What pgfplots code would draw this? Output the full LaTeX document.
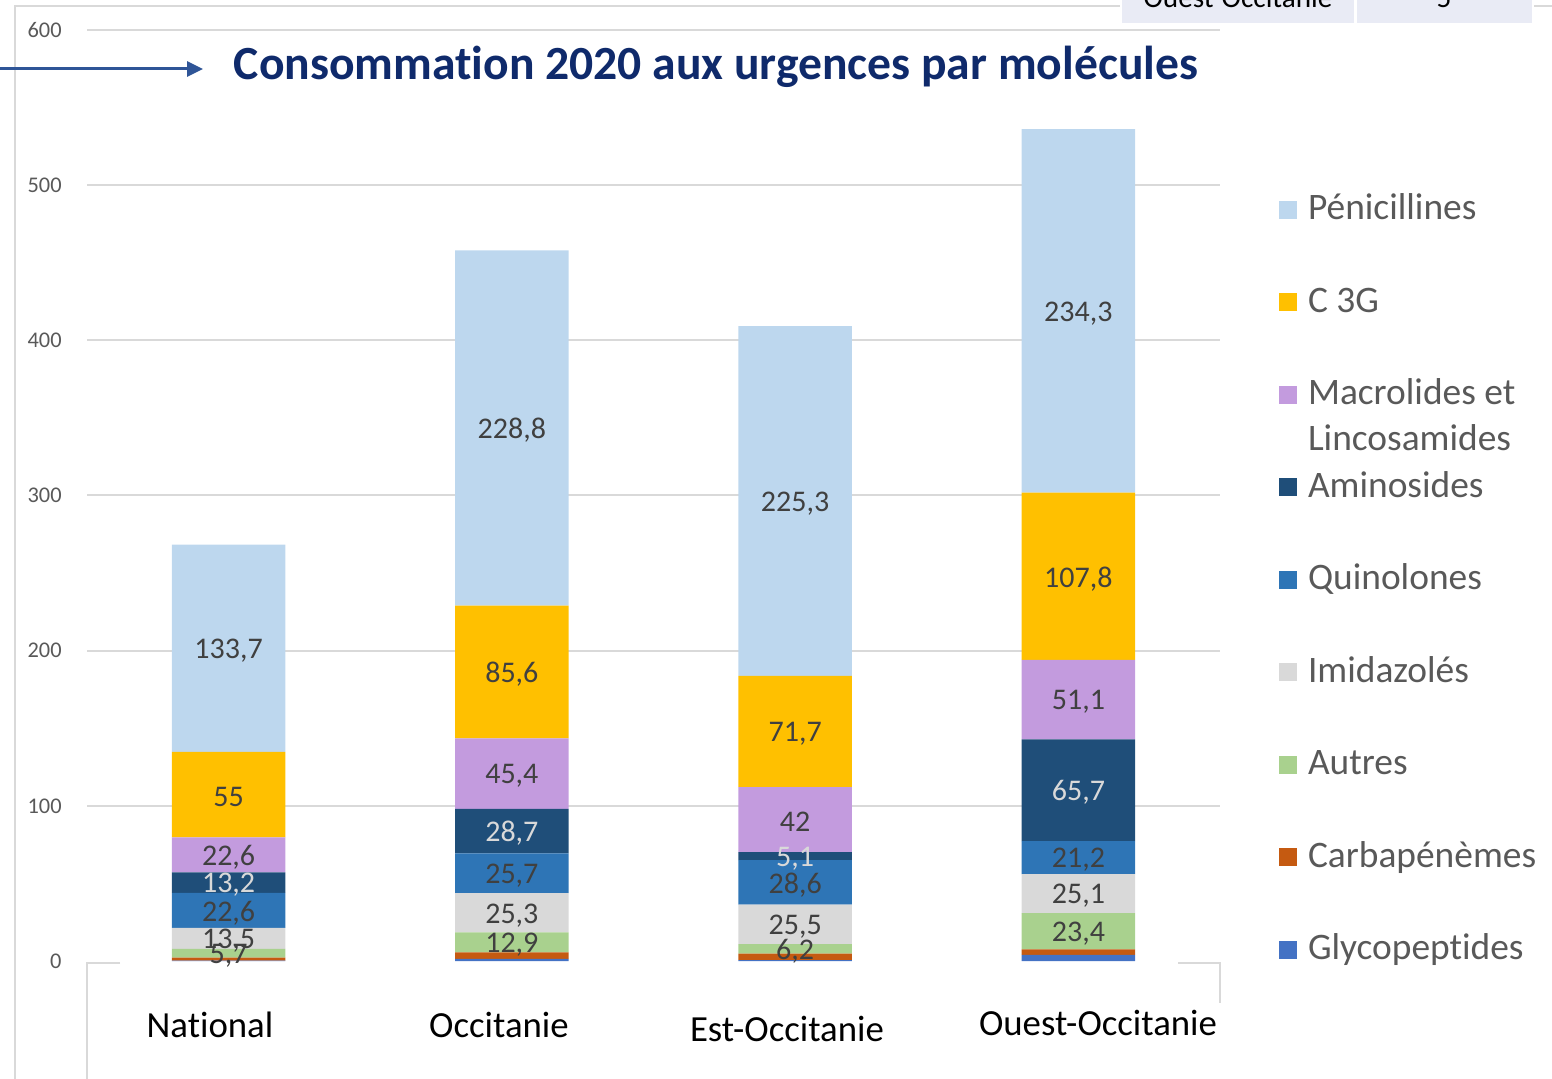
\documentclass[border=0pt]{standalone}
\usepackage{pgfplots}
\pgfplotsset{compat=1.18}
\usepackage{pgfplotstable}
\usepackage{fontspec}
\setmainfont{Carlito}[Ligatures={NoCommon}]
\usetikzlibrary{arrows.meta}

\definecolor{cPen}{HTML}{BDD7EE}
\definecolor{cCtg}{HTML}{FFC000}
\definecolor{cMac}{HTML}{C39BDE}
\definecolor{cAmi}{HTML}{1F4E79}
\definecolor{cQui}{HTML}{2E75B6}
\definecolor{cImi}{HTML}{D9D9D9}
\definecolor{cAut}{HTML}{A9D18E}
\definecolor{cCar}{HTML}{C55A11}
\definecolor{cGly}{HTML}{4472C4}
\definecolor{cGrid}{HTML}{D9D9D9}
\definecolor{cTitle}{HTML}{0F2A6B}
\definecolor{cArrow}{HTML}{2F5597}
\definecolor{cLab}{HTML}{404040}
\definecolor{cLabL}{HTML}{D9D9D9}
\definecolor{cLeg}{HTML}{595959}
\definecolor{cCell}{HTML}{E9EBF5}

\pgfplotstableread{
x glyco carba autres imid quin amino macro ctg pen
0 0.3 1.8 5.7 13.5 22.6 13.2 22.6 55 133.7
1 1.3 4.2 12.9 25.3 25.7 28.7 45.4 85.6 228.8
2 0.5 4.2 6.2 25.5 28.6 5.1 42 71.7 225.3
3 4.0 3.5 23.4 25.1 21.2 65.7 51.1 107.8 234.3
}\data

\pgfplotsset{
  sq/.style={legend image code/.code={\fill[##1] (0pt,-4.5pt) rectangle (9pt,4.5pt); \path (14.5pt,0pt);}},
  lbl/.style n args={2}{
    nodes near coords,
    point meta=explicit,
    every node near coord/.append style={anchor=center, yshift=-1.2pt, text=#2, font=\fontsize{15}{15}\selectfont, inner sep=0pt},
  },
}

\begin{document}
\begin{tikzpicture}
\useasboundingbox (0,0) rectangle (776pt,-539.5pt);
% outer frame (screenshot remains)
\draw[cGrid, line width=1pt] (7.5pt,-539.5pt) -- (7.5pt,-3pt) -- (560pt,-3pt);
\draw[cGrid, line width=1pt] (767pt,-3pt) -- (776pt,-3pt);
\begin{scope}
\clip (0,0) rectangle (776pt,-539.5pt);
\fill[cCell] (561pt,2pt) rectangle (677pt,-11.5pt);
\fill[cCell] (678.5pt,2pt) rectangle (766pt,-11.5pt);
\node[anchor=base, font=\fontsize{14.6}{15}\selectfont, text=black, inner sep=0pt] at (619pt,-4pt) {Ouest-Occitanie};
\node[anchor=base, font=\fontsize{14.6}{15}\selectfont, text=black, inner sep=0pt] at (722pt,-4pt) {5};
\end{scope}
% arrow
\draw[cArrow, line width=1.5pt, -{Triangle[length=8pt,width=7.5pt]}] (0pt,-34.5pt) -- (101.5pt,-34.5pt);
% title
\node[anchor=base, font=\fontsize{23.8}{26}\selectfont\bfseries, text=cTitle, inner sep=0pt] at (358pt,-40pt) {Consommation 2020 aux urgences par molécules};

\begin{axis}[
  at={(43.5pt,-480.5pt)}, anchor=south west,
  scale only axis, width=566.5pt, height=465.5pt,
  xmin=-0.5, xmax=3.5, ymin=0, ymax=600,
  ybar stacked, bar width=0.4,
  axis line style={draw=none},
  major tick style={draw=none},
  xtick=\empty,
  ytick={100,200,300,400,500,600},
  extra y ticks={0},
  extra y tick style={grid=none},
  ymajorgrids,
  major grid style={cGrid, line width=1pt},
  yticklabel style={font=\fontsize{11.2}{12}\selectfont, text=cLeg, inner sep=0pt, xshift=-12.5pt},
  /pgf/number format/assume math mode=true,
  /pgf/number format/use comma,
  clip=false,
  reverse legend,
  legend cell align=left,
  legend style={
    at={(axis description cs:1.0521,0.8303)}, anchor=north west,
    draw=none, fill=none, inner sep=0pt, outer sep=0pt,
    font=\fontsize{18.7}{23}\selectfont, text=cLeg,
    row sep=24.25pt,
    nodes={inner sep=0pt, text height=16pt, text depth=6pt},
  },
]
\addplot[fill=cGly, draw=none, sq] table[x=x,y=glyco]{\data};
\addlegendentry{Glycopeptides}
\addplot[fill=cCar, draw=none, sq] table[x=x,y=carba]{\data};
\addlegendentry{Carbapénèmes}
\addplot[fill=cAut, draw=none, sq, lbl={autres}{cLab}] table[x=x,y=autres,meta=autres]{\data};
\addlegendentry{Autres}
\addplot[fill=cImi, draw=none, sq, lbl={imid}{cLab}] table[x=x,y=imid,meta=imid]{\data};
\addlegendentry{Imidazolés}
\addplot[fill=cQui, draw=none, sq, lbl={quin}{cLab}] table[x=x,y=quin,meta=quin]{\data};
\addlegendentry{Quinolones}
\addplot[fill=cAmi, draw=none, sq, lbl={amino}{cLabL}] table[x=x,y=amino,meta=amino]{\data};
\addlegendentry{Aminosides}
\addplot[fill=cMac, draw=none, sq, lbl={macro}{cLab}] table[x=x,y=macro,meta=macro]{\data};
\addlegendentry{\begin{tabular}[t]{@{}l@{}}Macrolides et\\Lincosamides\end{tabular}}
\addplot[fill=cCtg, draw=none, sq, lbl={ctg}{cLab}] table[x=x,y=ctg,meta=ctg]{\data};
\addlegendentry{C 3G}
\addplot[fill=cPen, draw=none, sq, lbl={pen}{cLab}] table[x=x,y=pen,meta=pen]{\data};
\addlegendentry{Pénicillines}
\end{axis}

% brackets around category area
\draw[cGrid, line width=1pt] (60pt,-481.5pt) -- (43.5pt,-481.5pt) -- (43.5pt,-539.5pt);
\draw[cGrid, line width=1pt] (589pt,-481.5pt) -- (610pt,-481.5pt) -- (610pt,-501.5pt);
% category labels
\begin{scope}[every node/.style={anchor=base, font=\fontsize{18.4}{20}\selectfont, text=black, inner sep=0pt}]
\node at (105pt,-518.5pt) {National};
\node at (249.5pt,-518.5pt) {Occitanie};
\node at (393.5pt,-520.5pt) {Est-Occitanie};
\node at (549pt,-517.5pt) {Ouest-Occitanie};
\end{scope}
\end{tikzpicture}
\end{document}
